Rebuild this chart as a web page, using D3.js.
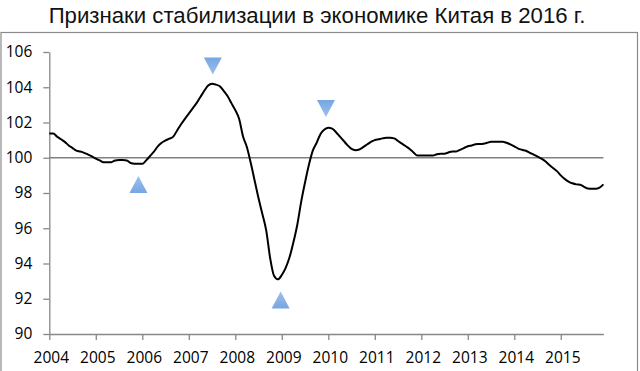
<!DOCTYPE html>
<html><head><meta charset="utf-8">
<script src="https://cdn.jsdelivr.net/npm/d3@7"></script>
<style>
html,body{margin:0;padding:0;background:#fff;}
svg{display:block;}
</style></head>
<body>
<script>
const title = "Признаки стабилизации в экономике Китая в 2016 г.";
const startYear = 2004;
const yearLabels = ["2004","2005","2006","2007","2008","2009","2010","2011","2012","2013","2014","2015"];
const yTicks = [90,92,94,96,98,100,102,104,106];
// monthly index values, Jan 2004 - Dec 2015
const values = [
 101.38,101.38,101.2,101.05,100.9,100.7,100.55,100.4,100.35,100.28,100.18,100.08,
 99.95,99.85,99.75,99.75,99.75,99.85,99.87,99.87,99.85,99.7,99.66,99.66,
 99.66,99.85,100.1,100.35,100.65,100.85,100.98,101.08,101.2,101.55,101.9,102.21,
 102.5,102.8,103.1,103.45,103.8,104.1,104.2,104.15,104.06,103.8,103.5,103.1,
 102.7,102.2,101.2,100.6,99.7,98.7,97.7,96.8,95.85,94.3,93.3,93.1,
 93.35,93.75,94.35,95.2,96.2,97.5,98.6,99.6,100.4,100.85,101.35,101.6,
 101.7,101.65,101.45,101.2,100.95,100.7,100.5,100.43,100.47,100.6,100.75,100.9,
 101.0,101.05,101.1,101.13,101.13,101.1,100.95,100.8,100.65,100.5,100.3,100.13,
 100.13,100.13,100.13,100.13,100.2,100.23,100.23,100.3,100.36,100.36,100.45,100.55,
 100.65,100.7,100.76,100.78,100.8,100.85,100.91,100.91,100.91,100.91,100.85,100.76,
 100.65,100.52,100.45,100.4,100.28,100.18,100.06,99.95,99.8,99.6,99.42,99.24,
 99.0,98.8,98.65,98.55,98.49,98.47,98.35,98.25,98.24,98.24,98.3,98.49
];
const baseline = 100;
// turning point markers: month index, value, direction
const markerMonths = [23.0, 42.2, 59.7, 71.4];
const markerValues = [98.48, 105.2, 91.93, 102.79];
const markerDirs = ["up","down","up","down"];

const W = 640, H = 371;
const svg = d3.select("body").append("svg").attr("width", W).attr("height", H);

const defs = svg.append("defs");
const gUp = defs.append("linearGradient").attr("id","gup").attr("x1",0).attr("y1",0).attr("x2",0).attr("y2",1);
gUp.append("stop").attr("offset","0%").attr("stop-color","#9dc0ec");
gUp.append("stop").attr("offset","100%").attr("stop-color","#76a6e2");
const gDn = defs.append("linearGradient").attr("id","gdn").attr("x1",0).attr("y1",0).attr("x2",0).attr("y2",1);
gDn.append("stop").attr("offset","0%").attr("stop-color","#76a6e2");
gDn.append("stop").attr("offset","100%").attr("stop-color","#9dc0ec");

// frame
svg.append("rect").attr("x",1).attr("y",32.5).attr("width",636.5).attr("height",360)
  .attr("fill","none").attr("stroke","#8a8a8a").attr("stroke-width",1.2);

svg.append("text").attr("x",317).attr("y",23).attr("text-anchor","middle")
  .attr("font-family","'Liberation Sans', Arial, sans-serif").attr("font-size",22.2)
  .attr("fill","#111").text(title);

const x = d3.scaleLinear().domain([0, values.length-1]).range([49.3, 603.4]);
const y = d3.scaleLinear().domain([90,106]).range([334, 52]);

const fontFam = "'Open Sans', 'Liberation Sans', sans-serif";

// y axis
const yAxis = svg.append("g").attr("transform","translate(49.3,0)")
  .call(d3.axisLeft(y).tickValues(yTicks).tickSize(6).tickPadding(11).tickSizeOuter(0));
yAxis.select(".domain").attr("stroke","#888").attr("stroke-width",1.3);
yAxis.selectAll(".tick line").attr("stroke","#888").attr("stroke-width",1.3);
yAxis.selectAll("text").attr("font-family",fontFam).attr("font-size",15.5).attr("fill","#000");

// x axis
const xTickVals = yearLabels.map((d,i)=>i*12);
const xAxis = svg.append("g").attr("transform","translate(0,334)")
  .call(d3.axisBottom(x).tickValues(xTickVals).tickFormat((d,i)=>yearLabels[i]).tickSize(6).tickPadding(12).tickSizeOuter(0));
xAxis.select(".domain").attr("stroke","#888").attr("stroke-width",1.3);
xAxis.selectAll(".tick line").attr("stroke","#888").attr("stroke-width",1.3);
xAxis.selectAll("text").attr("font-family",fontFam).attr("font-size",15.5).attr("fill","#000").attr("dx",1.5);

// baseline 100
svg.append("line").attr("x1",x(0)).attr("x2",x(values.length-1))
  .attr("y1",y(baseline)).attr("y2",y(baseline))
  .attr("stroke","#808080").attr("stroke-width",1.6);

// series line
const line = d3.line().x((d,i)=>x(i)).y(d=>y(d)).curve(d3.curveMonotoneX);
svg.append("path").datum(values).attr("d",line)
  .attr("fill","none").attr("stroke","#000").attr("stroke-width",2).attr("stroke-linejoin","round");

// markers
const tw = 18, th = 17;
markerMonths.forEach((m,i)=>{
  const cx = x(m), cy = y(markerValues[i]);
  const up = markerDirs[i]==="up";
  const pts = up
    ? [[0,-th/2],[tw/2,th/2],[-tw/2,th/2]]
    : [[-tw/2,-th/2],[tw/2,-th/2],[0,th/2]];
  svg.append("path").attr("transform",`translate(${cx},${cy})`)
    .attr("d","M"+pts.map(p=>p.join(",")).join("L")+"Z")
    .attr("fill", up ? "url(#gup)" : "url(#gdn)");
});
</script>
</body></html>
